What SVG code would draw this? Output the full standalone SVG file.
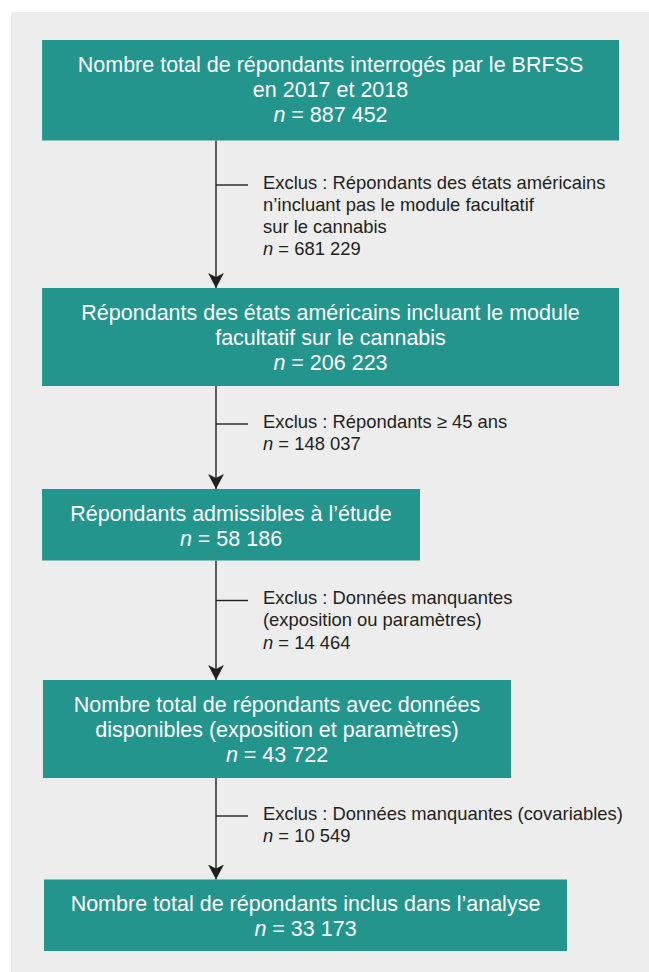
<svg xmlns="http://www.w3.org/2000/svg" width="649" height="972" viewBox="0 0 649 972">
  <style>
    .box { fill: #23958D; }
    .bt { font-family: "Liberation Sans", Arial, sans-serif; font-size: 21.5px; fill: #FFFFFF; text-anchor: middle; }
    .et { font-family: "Liberation Sans", Arial, sans-serif; font-size: 18.4px; fill: #231F20; }
    .it { font-style: italic; }
    .conn { stroke: #231F20; stroke-width: 1.4; fill: none; }
  </style>
  <defs>
    <marker id="arrow" markerUnits="userSpaceOnUse" markerWidth="15" markerHeight="16" viewBox="0 0 15 16" refX="15" refY="8" orient="auto">
      <path d="M0,0 L15,8 L0,16 L4,8 Z" fill="#231F20"/>
    </marker>
  </defs>
  <rect x="0" y="0" width="649" height="972" fill="#FFFFFF"/>
  <rect x="11" y="12" width="638" height="960" fill="#EDEDED"/>

  <g id="connectors">
    <line class="conn" x1="216" y1="140.5" x2="216" y2="288" marker-end="url(#arrow)"/>
    <line class="conn" x1="216" y1="185" x2="248" y2="185"/>
    <line class="conn" x1="216" y1="386" x2="216" y2="489" marker-end="url(#arrow)"/>
    <line class="conn" x1="216" y1="424" x2="248" y2="424"/>
    <line class="conn" x1="216" y1="560.5" x2="216" y2="680" marker-end="url(#arrow)"/>
    <line class="conn" x1="216" y1="600.5" x2="248" y2="600.5"/>
    <line class="conn" x1="216" y1="778" x2="216" y2="879.5" marker-end="url(#arrow)"/>
    <line class="conn" x1="216" y1="816" x2="248" y2="816"/>
  </g>

  <g id="node1">
    <rect class="box" x="42" y="40" width="577" height="100.5"/>
    <text class="bt" x="330.5" y="72">Nombre total de répondants interrogés par le BRFSS</text>
    <text class="bt" x="330.5" y="97">en 2017 et 2018</text>
    <text class="bt" x="330.5" y="122"><tspan class="it">n</tspan> = 887 452</text>
  </g>

  <g id="excl1">
    <text class="et" x="263" y="188.5">Exclus : Répondants des états américains</text>
    <text class="et" x="263" y="210.8">n’incluant pas le module facultatif</text>
    <text class="et" x="263" y="233">sur le cannabis</text>
    <text class="et" x="263" y="255.3"><tspan class="it">n</tspan> = 681 229</text>
  </g>

  <g id="node2">
    <rect class="box" x="42" y="288" width="577" height="98"/>
    <text class="bt" x="330.5" y="319.5">Répondants des états américains incluant le module</text>
    <text class="bt" x="330.5" y="344.5">facultatif sur le cannabis</text>
    <text class="bt" x="330.5" y="369.5"><tspan class="it">n</tspan> = 206 223</text>
  </g>

  <g id="excl2">
    <text class="et" x="263" y="427.5">Exclus : Répondants ≥ 45 ans</text>
    <text class="et" x="263" y="449.8"><tspan class="it">n</tspan> = 148 037</text>
  </g>

  <g id="node3">
    <rect class="box" x="42" y="489" width="378" height="71.5"/>
    <text class="bt" x="231" y="520.5">Répondants admissibles à l’étude</text>
    <text class="bt" x="231" y="545.5"><tspan class="it">n</tspan> = 58 186</text>
  </g>

  <g id="excl3">
    <text class="et" x="263" y="604">Exclus : Données manquantes</text>
    <text class="et" x="263" y="626.3">(exposition ou paramètres)</text>
    <text class="et" x="263" y="648.6"><tspan class="it">n</tspan> = 14 464</text>
  </g>

  <g id="node4">
    <rect class="box" x="43" y="680" width="468" height="98"/>
    <text class="bt" x="277" y="711.5">Nombre total de répondants avec données</text>
    <text class="bt" x="277" y="736.5">disponibles (exposition et paramètres)</text>
    <text class="bt" x="277" y="761.5"><tspan class="it">n</tspan> = 43 722</text>
  </g>

  <g id="excl4">
    <text class="et" x="263" y="819.5">Exclus : Données manquantes (covariables)</text>
    <text class="et" x="263" y="841.8"><tspan class="it">n</tspan> = 10 549</text>
  </g>

  <g id="node5">
    <rect class="box" x="44" y="879.5" width="523" height="71.5"/>
    <text class="bt" x="305.5" y="910.5">Nombre total de répondants inclus dans l’analyse</text>
    <text class="bt" x="305.5" y="935.5"><tspan class="it">n</tspan> = 33 173</text>
  </g>
</svg>
